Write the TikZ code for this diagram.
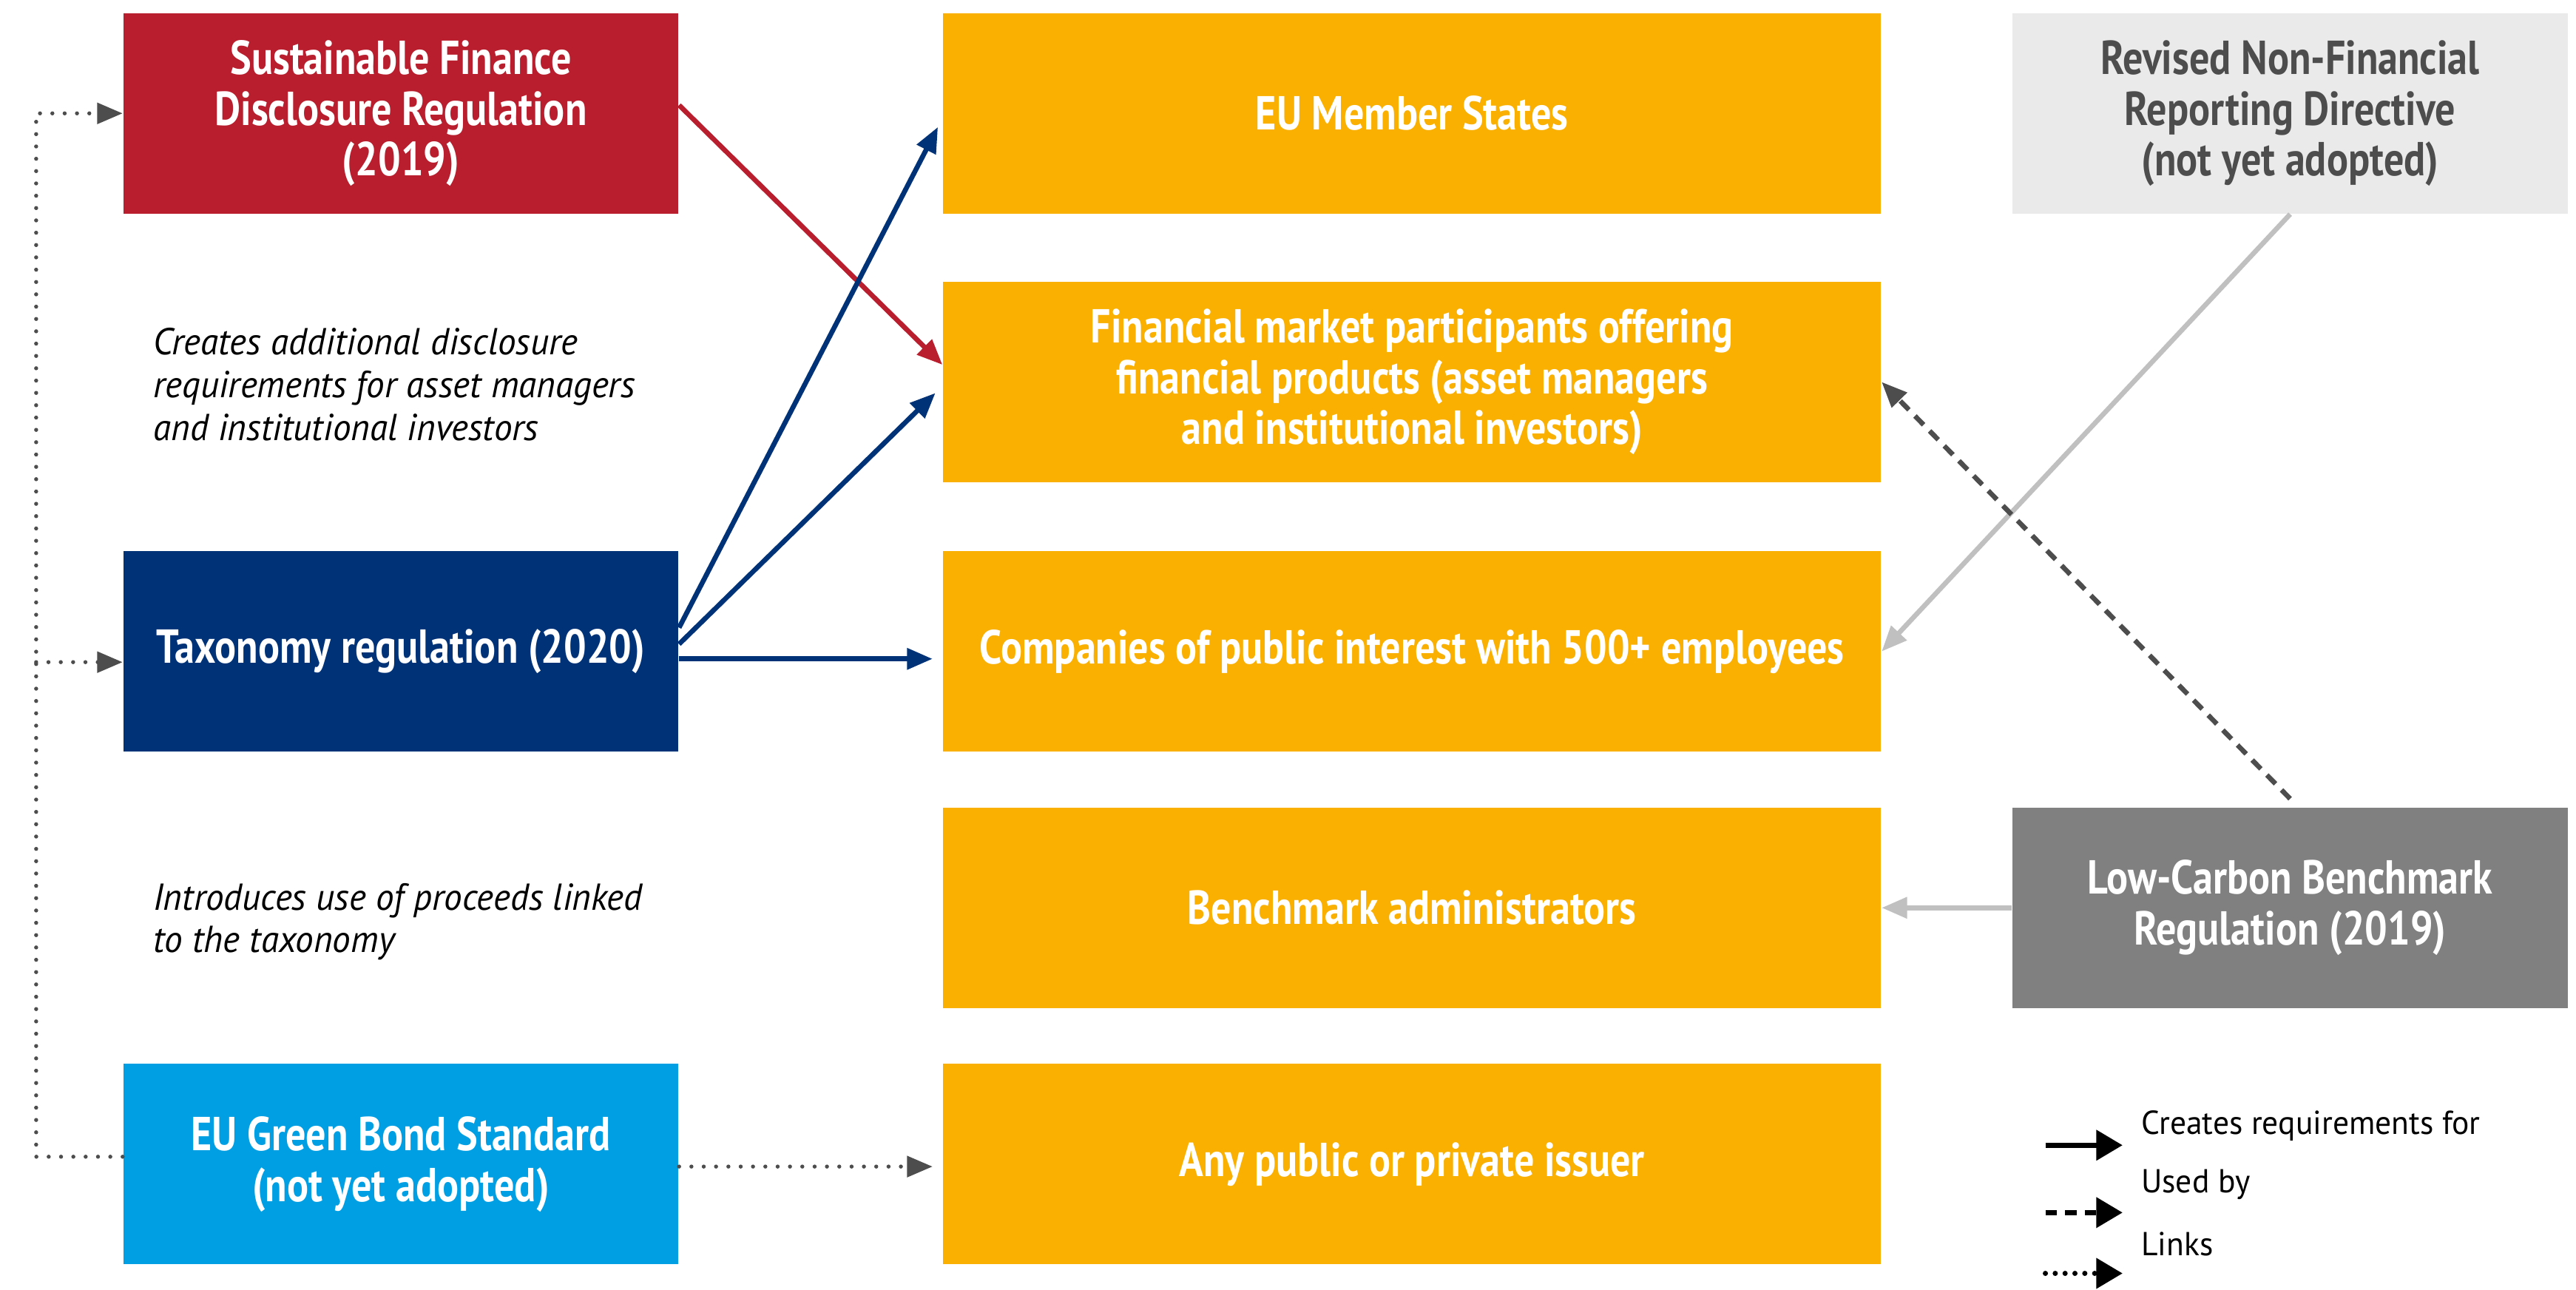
\documentclass[tikz,border=0pt]{standalone}
\usepackage{fontspec}
\setmainfont{PT Sans}
\newfontfamily\boxfont[FakeStretch=0.84]{PT Sans}
\newfontfamily\notefont[FakeStretch=0.97]{PT Sans}
\usetikzlibrary{arrows.meta}

\definecolor{sfdrred}{RGB}{184,30,45}
\definecolor{taxblue}{RGB}{0,50,120}
\definecolor{gbsblue}{RGB}{0,159,227}
\definecolor{targetorange}{RGB}{249,176,0}
\definecolor{nfrdgray}{RGB}{235,234,235}
\definecolor{darktext}{RGB}{77,77,77}
\definecolor{lcbrgray}{RGB}{128,128,128}
\definecolor{usegray}{RGB}{192,192,192}

\begin{document}
\begin{tikzpicture}[x=0.2mm, y=-0.2mm,
    box/.style={minimum width=67.6mm, minimum height=24.4mm, inner sep=0pt,
        align=center, text=white, font=\boxfont\bfseries\fontsize{16.5}{17.6}\selectfont},
    target/.style={box, fill=targetorange, minimum width=114.2mm},
    note/.style={anchor=west, align=left, inner sep=0pt,
        font=\notefont\itshape\fontsize{13}{14.8}\selectfont},
    tip/.style={-{Triangle[length=3.1mm, width=2.5mm]}},
    req/.style={tip, line width=1.7pt},
    usedby/.style={tip, line width=1.7pt, darktext, dash pattern=on 1.5mm off 1.05mm},
    link/.style={tip, line width=1.4pt, darktext, line cap=round, dash pattern=on 0pt off 1.5mm},
    legend/.style={anchor=west, inner sep=0pt, font=\notefont\fontsize{11.5}{14}\selectfont}]

    \useasboundingbox (0,0) rectangle (1568,785);

    % Regulations on the left
    \node[box, fill=sfdrred] (sfdr) at (244,69) {Sustainable Finance\\Disclosure Regulation\\(2019)};
    \node[box, fill=taxblue] (tax) at (244,396.5) {Taxonomy regulation (2020)};
    \node[box, fill=gbsblue] (gbs) at (244,708.5) {EU Green Bond Standard\\(not yet adopted)};

    \node[note] (sfdrnote) at (93,234) {Creates additional disclosure\\requirements for asset managers\\and institutional investors};
    \node[note] (gbsnote) at (93,561) {Introduces use of proceeds linked\\to the taxonomy};

    % Who is concerned
    \node[target] (ms) at (859.5,69) {EU Member States};
    \node[target] (fmp) at (859.5,232.5) {Financial market participants offering\\financial products (asset managers\\and institutional investors)};
    \node[target] (cpi) at (859.5,396.5) {Companies of public interest with 500+ employees};
    \node[target] (bench) at (859.5,552.5) {Benchmark administrators};
    \node[target] (issuer) at (859.5,708.5) {Any public or private issuer};

    % Regulations on the right
    \node[box, fill=nfrdgray, text=darktext] (nfrd) at (1394,69) {Revised Non-Financial\\Reporting Directive\\(not yet adopted)};
    \node[box, fill=lcbrgray] (lcbr) at (1394,552.5) {Low-Carbon Benchmark\\Regulation (2019)};

    % Requirements
    \draw[req, sfdrred] ([yshift=1mm]sfdr.east) -- ([yshift=2.1mm]fmp.west);
    \draw[req, taxblue, shorten >=1.2mm] ([yshift=2.9mm]tax.east) -- ([yshift=-0.6mm]ms.west);
    \draw[req, taxblue, shorten >=1.2mm] ([yshift=0.9mm]tax.east) -- ([yshift=-0.5mm]fmp.west);
    \draw[req, taxblue, shorten >=1.2mm] ([yshift=-0.9mm]tax.east) -- ([yshift=-0.9mm]cpi.west);
    \draw[req, usegray] (nfrd.south) -- (cpi.east);
    \draw[req, usegray] (lcbr.west) -- (bench.east);
    \draw[usedby] ([yshift=1mm]lcbr.north) -- (fmp.east);

    % Links between the regulations
    \coordinate (spine) at (22,0);
    \draw[link, shorten >=1.2mm] ([yshift=-0.3mm]gbs.east) -- ([yshift=-0.3mm]issuer.west);
    \draw[link] ([yshift=0.9mm]gbs.west) -- ([yshift=0.9mm]gbs.west -| spine) -- (sfdr.west -| spine) -- (sfdr.west);
    \draw[link] ([yshift=-1.3mm]tax.west -| spine) -- ([yshift=-1.3mm]tax.west);

    % Legend
    \node[legend] (lreq) at (1303,685) {Creates requirements for};
    \node[legend] (luse) at (1303,721) {Used by};
    \node[legend] (llink) at (1303,757) {Links};
    \begin{scope}[line width=1.8pt, black]
        \draw[-{Triangle[length=3.2mm, width=3.6mm]}] (1245,697) -- (1292,697);
        \draw[-{Triangle[length=3.2mm, width=3.6mm]}, dash pattern=on 1.4mm off 1mm] (1245,738) -- (1292,738);
        \draw[-{Triangle[length=3.2mm, width=3.6mm]}, line cap=round, dash pattern=on 0pt off 1.2mm] (1245,775) -- (1292,775);
    \end{scope}
\end{tikzpicture}
\end{document}
